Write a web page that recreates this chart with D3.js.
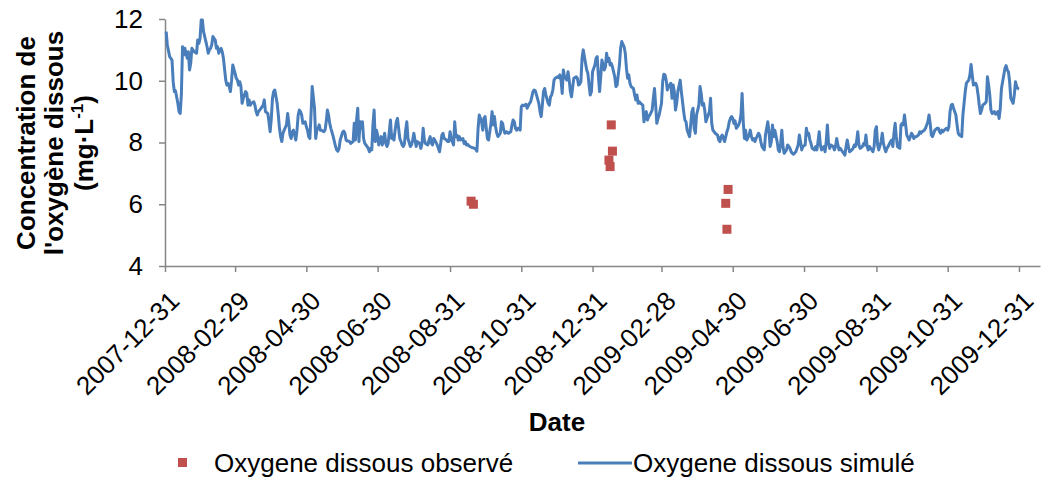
<!DOCTYPE html>
<html>
<head>
<meta charset="utf-8">
<script src="https://cdn.jsdelivr.net/npm/d3@7"></script>
<style>
	body { margin: 0; background: #fff; }
	text { font-family: "Liberation Sans", Arial, sans-serif; fill: #000; }
</style>
</head>
<body>
<div id="chart"></div>
<script>

// date de depart de la simulation (jour 0)
var debut = "2007-12-31";
var finAxe = "2010-01-18";

// graduations de l'axe des x
var tickDates = ["2007-12-31", "2008-02-29", "2008-04-30", "2008-06-30", "2008-08-31", "2008-10-31",
	"2008-12-31", "2009-02-28", "2009-04-30", "2009-06-30", "2009-08-31", "2009-10-31", "2009-12-31"];
var yTicks = [4, 6, 8, 10, 12];

// oxygene dissous observe (mg/L)
var obsDates = ["2008-09-18", "2008-09-20", "2009-01-14", "2009-01-15", "2009-01-16", "2009-01-17",
	"2009-04-24", "2009-04-25", "2009-04-26"];
var obsValues = [6.10, 6.00, 7.43, 7.22, 8.57, 7.72, 6.03, 5.19, 6.48];

// oxygene dissous simule : [jour depuis le debut, mg/L]
var simule = [
	[1,11.59],[2,11.16],[4,10.78],[6,10.67],[7,9.97],[8,9.65],[9,9.67],[11,9.27],[12,9.0],[13,8.94],
	[14,9.54],[15,11.1],[16,10.83],[17,11.05],[19,10.73],[20,10.94],[21,10.35],[22,10.56],[23,11.05],[25,10.94],
	[27,10.89],[28,11.32],[29,11.21],[30,11.37],[31,11.97],[32,11.97],[33,11.59],[35,11.27],[36,11.1],[37,10.89],
	[38,11.0],[39,11.05],[40,11.16],[41,11.43],[43,11.32],[44,11.05],[45,11.1],[46,10.89],[47,11.0],[48,11.05],
	[49,10.94],[50,10.73],[52,10.02],[53,9.86],[54,9.91],[55,9.81],[56,9.65],[57,10.02],[58,10.51],[60,10.24],
	[61,10.08],[62,10.02],[63,9.86],[64,9.97],[65,9.81],[66,9.27],[67,9.43],[69,9.65],[70,9.59],[71,9.21],
	[72,9.38],[73,9.21],[74,9.27],[76,9.32],[77,9.21],[78,9.0],[79,8.89],[80,9.0],[81,9.05],[82,9.1],
	[84,9.21],[85,9.38],[86,9.0],[88,8.94],[89,8.67],[90,8.35],[91,8.78],[92,9.43],[93,9.65],[94,9.70],
	[96,9.27],[97,8.89],[98,8.46],[99,8.19],[100,8.03],[101,8.30],[102,8.40],[104,8.57],[105,8.94],[106,8.62],
	[107,8.24],[108,8.13],[109,8.35],[110,8.40],[112,8.08],[113,8.40],[114,8.89],[115,9.05],[116,9.0],[117,8.89],
	[118,8.62],[120,8.67],[121,8.51],[122,8.40],[123,8.19],[124,8.13],[125,8.89],[126,9.81],[128,9.11],[129,8.13],
	[130,8.40],[131,8.46],[132,8.57],[133,8.40],[134,8.40],[136,8.35],[137,8.40],[138,8.67],[139,9.05],[140,8.89],
	[141,8.62],[142,8.46],[144,8.19],[145,8.03],[146,7.87],[147,7.76],[148,7.72],[149,7.81],[150,8.08],[152,8.33],
	[153,8.37],[154,8.30],[155,8.08],[156,8.05],[157,8.05],[158,8.03],[159,7.97],[161,8.03],[162,8.62],[163,8.08],
	[164,8.73],[165,9.11],[166,8.03],[167,8.67],[168,8.46],[169,8.67],[170,8.13],[171,7.97],[173,7.87],[174,7.81],
	[175,7.70],[176,7.81],[177,7.76],[178,8.57],[179,9.05],[180,8.03],[181,8.40],[182,8.24],[183,7.92],[185,8.19],
	[186,7.92],[187,8.08],[188,8.30],[189,7.97],[190,7.87],[191,7.97],[193,8.73],[194,8.13],[195,8.24],[196,8.08],
	[197,8.40],[198,8.67],[199,8.78],[201,8.13],[202,8.03],[203,7.92],[204,7.87],[205,7.97],[206,8.40],[207,8.67],
	[208,8.13],[210,7.87],[211,7.92],[212,8.08],[213,8.30],[214,8.08],[215,7.87],[216,8.03],[218,7.97],[219,7.81],
	[220,7.97],[221,8.46],[222,8.08],[223,7.97],[225,7.92],[226,8.08],[227,8.19],[228,7.97],[229,7.92],[230,8.13],
	[231,8.08],[233,7.92],[234,7.81],[235,7.70],[236,7.97],[237,8.24],[238,8.30],[239,8.13],[241,8.08],[242,8.03],
	[243,8.03],[244,8.35],[245,8.13],[247,7.92],[248,8.67],[249,8.19],[250,8.24],[251,8.08],[252,8.19],[253,8.08],
	[255,8.13],[256,7.97],[257,8.03],[258,7.92],[259,7.94],[260,7.90],[261,7.87],[263,7.83],[264,7.83],[265,7.81],
	[266,7.78],[267,7.72],[268,8.46],[269,8.89],[271,8.67],[272,8.40],[273,8.78],[274,8.84],[275,8.46],[276,8.13],
	[277,8.08],[279,8.62],[280,9.0],[281,8.57],[282,8.84],[283,8.51],[284,8.30],[285,8.19],[287,8.30],[288,8.67],
	[289,8.62],[290,8.40],[291,8.30],[292,8.35],[293,8.33],[294,8.30],[296,8.35],[297,8.57],[298,8.73],[299,8.67],
	[300,8.46],[301,8.40],[302,8.46],[304,8.40],[305,9.16],[306,9.21],[307,9.19],[308,9.21],[309,9.24],[310,9.11],
	[312,9.27],[313,9.32],[314,9.48],[315,9.65],[316,9.70],[317,9.67],[318,9.54],[320,9.27],[321,9.0],[322,8.84],
	[323,9.21],[324,9.65],[325,9.75],[326,9.54],[328,9.27],[329,9.21],[330,9.48],[331,9.54],[332,9.70],[333,10.02],
	[334,10.08],[336,10.13],[337,10.10],[338,10.19],[339,10.02],[340,9.59],[341,10.35],[342,10.13],[344,10.02],[345,10.29],
	[346,10.02],[347,9.65],[348,9.48],[349,9.81],[350,10.08],[352,10.13],[353,10.08],[354,9.86],[355,9.89],[356,9.97],
	[357,10.73],[358,11.0],[360,10.56],[361,10.35],[362,10.24],[363,9.86],[364,9.54],[365,9.65],[366,10.29],[368,10.51],
	[369,10.73],[370,10.78],[371,10.13],[372,9.65],[373,10.13],[374,10.67],[376,10.35],[377,10.45],[378,10.89],[379,10.62],
	[380,10.73],[381,10.51],[382,10.56],[383,10.45],[385,10.13],[386,9.81],[387,9.86],[388,10.19],[389,10.51],[390,11.05],
	[391,11.27],[393,11.1],[394,10.89],[395,10.40],[396,10.08],[397,10.19],[398,9.92],[399,9.81],[401,9.75],[402,9.54],
	[403,9.38],[404,9.54],[405,9.27],[406,9.32],[407,9.27],[409,9.21],[410,8.67],[411,8.89],[412,9.0],[413,8.73],
	[414,8.84],[415,8.89],[417,9.05],[418,9.43],[419,9.75],[420,9.21],[421,8.62],[422,8.78],[423,8.89],[425,9.27],
	[426,9.97],[427,10.21],[428,10.19],[429,10.02],[430,9.70],[431,9.81],[433,9.92],[434,9.43],[435,9.86],[436,9.65],
	[437,9.05],[438,9.27],[439,9.65],[441,10.02],[442,9.65],[443,9.32],[444,9.0],[445,8.73],[446,8.67],[447,8.40],
	[449,8.19],[450,8.57],[451,9.0],[452,9.11],[453,8.46],[454,8.30],[455,8.89],[457,9.21],[458,9.81],[459,9.59],
	[460,9.21],[461,9.27],[462,9.05],[463,8.67],[465,8.89],[466,9.0],[467,9.43],[468,8.62],[469,8.40],[470,8.35],
	[471,8.30],[473,8.24],[474,8.08],[475,8.03],[476,8.19],[477,8.24],[478,8.13],[479,8.03],[481,8.35],[482,8.46],
	[483,8.67],[484,8.78],[485,8.84],[486,8.78],[487,8.62],[488,8.70],[489,8.46],[490,8.51],[491,8.57],[492,8.67],
	[493,8.89],[494,9.59],[495,8.67],[496,8.13],[497,8.40],[498,8.08],[500,8.24],[501,8.40],[502,8.19],[503,8.08],
	[504,8.13],[505,8.03],[506,8.13],[508,8.30],[509,8.24],[510,8.03],[511,7.87],[512,7.81],[513,7.76],[514,8.24],
	[516,8.67],[517,8.35],[518,7.87],[519,8.03],[520,8.57],[521,8.19],[522,8.40],[524,8.03],[525,7.76],[526,7.70],
	[527,7.97],[528,8.40],[529,7.87],[530,7.65],[532,7.76],[533,7.92],[534,7.87],[535,7.81],[536,7.70],[537,7.65],
	[538,7.62],[540,7.70],[541,7.81],[542,7.92],[543,8.24],[544,8.03],[545,7.76],[546,7.87],[548,7.92],[549,8.46],
	[550,8.24],[551,8.30],[552,8.08],[553,7.97],[554,7.81],[556,7.76],[557,7.87],[558,7.76],[559,8.03],[560,8.35],
	[561,7.92],[562,7.76],[564,7.87],[565,7.70],[566,8.03],[567,8.57],[568,7.97],[569,7.81],[570,7.92],[572,7.87],
	[573,7.76],[574,7.87],[575,8.13],[576,7.92],[577,7.76],[578,7.81],[580,7.70],[581,7.65],[582,7.59],[583,7.87],
	[584,8.08],[585,7.87],[586,7.70],[588,7.76],[589,7.81],[590,7.92],[591,7.87],[592,8.03],[593,8.35],[594,7.92],
	[595,7.81],[597,7.87],[598,7.97],[599,7.92],[600,8.24],[601,7.87],[602,7.76],[603,7.87],[605,7.76],[606,7.70],
	[607,7.87],[608,8.40],[609,8.51],[610,7.92],[611,7.76],[613,8.03],[614,8.30],[615,7.97],[616,7.81],[617,7.70],
	[618,7.81],[619,7.87],[621,8.03],[622,8.08],[623,7.87],[624,8.30],[625,8.62],[626,8.19],[627,7.87],[629,7.81],
	[630,8.57],[631,8.62],[632,8.57],[633,8.89],[634,8.57],[635,8.24],[637,8.08],[638,8.19],[639,8.30],[640,8.24],
	[641,8.13],[642,8.19],[643,8.19],[645,8.24],[646,8.35],[647,8.30],[648,8.35],[649,8.37],[650,8.40],[651,8.46],
	[653,8.67],[654,8.89],[655,8.62],[656,8.24],[657,8.19],[658,8.30],[659,8.40],[661,8.46],[662,8.46],[663,8.35],
	[664,8.30],[665,8.40],[666,8.35],[667,8.40],[669,8.46],[670,8.40],[671,8.51],[672,9.0],[673,9.21],[674,9.24],
	[675,9.11],[677,8.89],[678,8.57],[679,8.30],[680,8.24],[681,8.22],[682,8.19],[683,8.89],[685,9.65],[686,9.92],
	[687,9.97],[688,10.02],[689,10.19],[690,10.53],[691,10.19],[692,9.86],[694,9.92],[695,9.81],[696,9.54],[697,9.21],
	[698,8.94],[699,9.05],[700,9.21],[702,9.27],[703,9.32],[704,10.13],[705,9.86],[706,9.54],[707,9.05],[708,8.94],
	[710,9.0],[711,8.92],[712,8.94],[713,9.0],[714,8.78],[715,9.11],[716,9.75],[718,10.19],[719,10.40],[720,10.49],
	[721,10.35],[722,10.29],[723,9.97],[724,9.43],[726,9.27],[727,9.54],[728,9.97],[729,9.81],[730,9.75],[731,9.73]
];

var width = 1050;
var height = 483;

// zone de trace
var plotLeft = 165, plotRight = 1040, plotTop = 19, plotBottom = 266;

var parse = d3.utcParse("%Y-%m-%d");
var start = parse(debut);

var x = d3.scaleUtc()
	.domain([start, parse(finAxe)])
	.range([plotLeft, plotRight]);

var y = d3.scaleLinear()
	.domain([4, 12])
	.range([plotBottom, plotTop]);

var svg = d3.select("#chart").append("svg")
	.attr("width", width)
	.attr("height", height);

var axisColor = "#868686";
var font = "'Liberation Sans', Arial, sans-serif";

// axe des y
var gy = svg.append("g")
	.attr("transform", "translate(" + plotLeft + ",0)")
	.call(d3.axisLeft(y)
		.tickValues(yTicks)
		.tickSize(6)
		.tickSizeOuter(0)
		.tickPadding(16));

gy.selectAll("text")
	.style("font-size", "26px")
	.style("font-family", font);

// axe des x
var gx = svg.append("g")
	.attr("transform", "translate(0," + plotBottom + ")")
	.call(d3.axisBottom(x)
		.tickValues(tickDates.map(parse))
		.tickFormat(d3.utcFormat("%Y-%m-%d"))
		.tickSize(6)
		.tickSizeOuter(0));

gx.selectAll("text")
	.attr("x", 0)
	.attr("y", 0)
	.attr("dy", "0.35em")
	.attr("text-anchor", "end")
	.attr("transform", "translate(9,30) rotate(-45)")
	.style("font-size", "26px")
	.style("font-family", font);

svg.selectAll(".domain, .tick line")
	.attr("stroke", axisColor)
	.attr("stroke-width", 1.5);

// courbe simulee
var line = d3.line()
	.x(function(d) { return x(d3.utcDay.offset(start, d[0])); })
	.y(function(d) { return y(d[1]); });

svg.append("path")
	.datum(simule)
	.attr("d", line)
	.attr("fill", "none")
	.attr("stroke", "#4A7EBB")
	.attr("stroke-width", 3)
	.attr("stroke-linejoin", "round");

// points observes
var sq = 9;
svg.selectAll("rect.obs")
	.data(obsValues)
	.enter()
	.append("rect")
	.attr("class", "obs")
	.attr("x", function(d, i) { return x(parse(obsDates[i])) - sq/2; })
	.attr("y", function(d) { return y(d) - sq/2; })
	.attr("width", sq)
	.attr("height", sq)
	.attr("fill", "#C0504D");

// titres des axes
svg.append("text")
	.attr("x", 557)
	.attr("y", 431)
	.attr("text-anchor", "middle")
	.style("font-size", "26px")
	.style("font-weight", "bold")
	.text("Date");

var titre = ["Concentration de", "l'oxygène dissous"];
titre.forEach(function(t, i) {
	svg.append("text")
		.attr("transform", "translate(" + (35 + i*28) + ",143) rotate(-90)")
		.attr("text-anchor", "middle")
		.style("font-size", "26px")
		.style("font-weight", "bold")
		.text(t);
});

var unite = svg.append("text")
	.attr("transform", "translate(93,143) rotate(-90)")
	.attr("text-anchor", "middle")
	.style("font-size", "26px")
	.style("font-weight", "bold");
unite.append("tspan").text("(mg·L");
unite.append("tspan").attr("dy", -10).style("font-size", "17px").text("-1");
unite.append("tspan").attr("dy", 10).text(")");

// legende
var legende = svg.append("g");
legende.append("rect")
	.attr("x", 178)
	.attr("y", 458)
	.attr("width", sq)
	.attr("height", sq)
	.attr("fill", "#C0504D");
legende.append("text")
	.attr("x", 214)
	.attr("y", 472)
	.style("font-size", "26px")
	.text("Oxygene dissous observé");
legende.append("line")
	.attr("x1", 578)
	.attr("x2", 632)
	.attr("y1", 463)
	.attr("y2", 463)
	.attr("stroke", "#4A7EBB")
	.attr("stroke-width", 3);
legende.append("text")
	.attr("x", 633)
	.attr("y", 472)
	.style("font-size", "26px")
	.text("Oxygene dissous simulé");

</script>
</body>
</html>
